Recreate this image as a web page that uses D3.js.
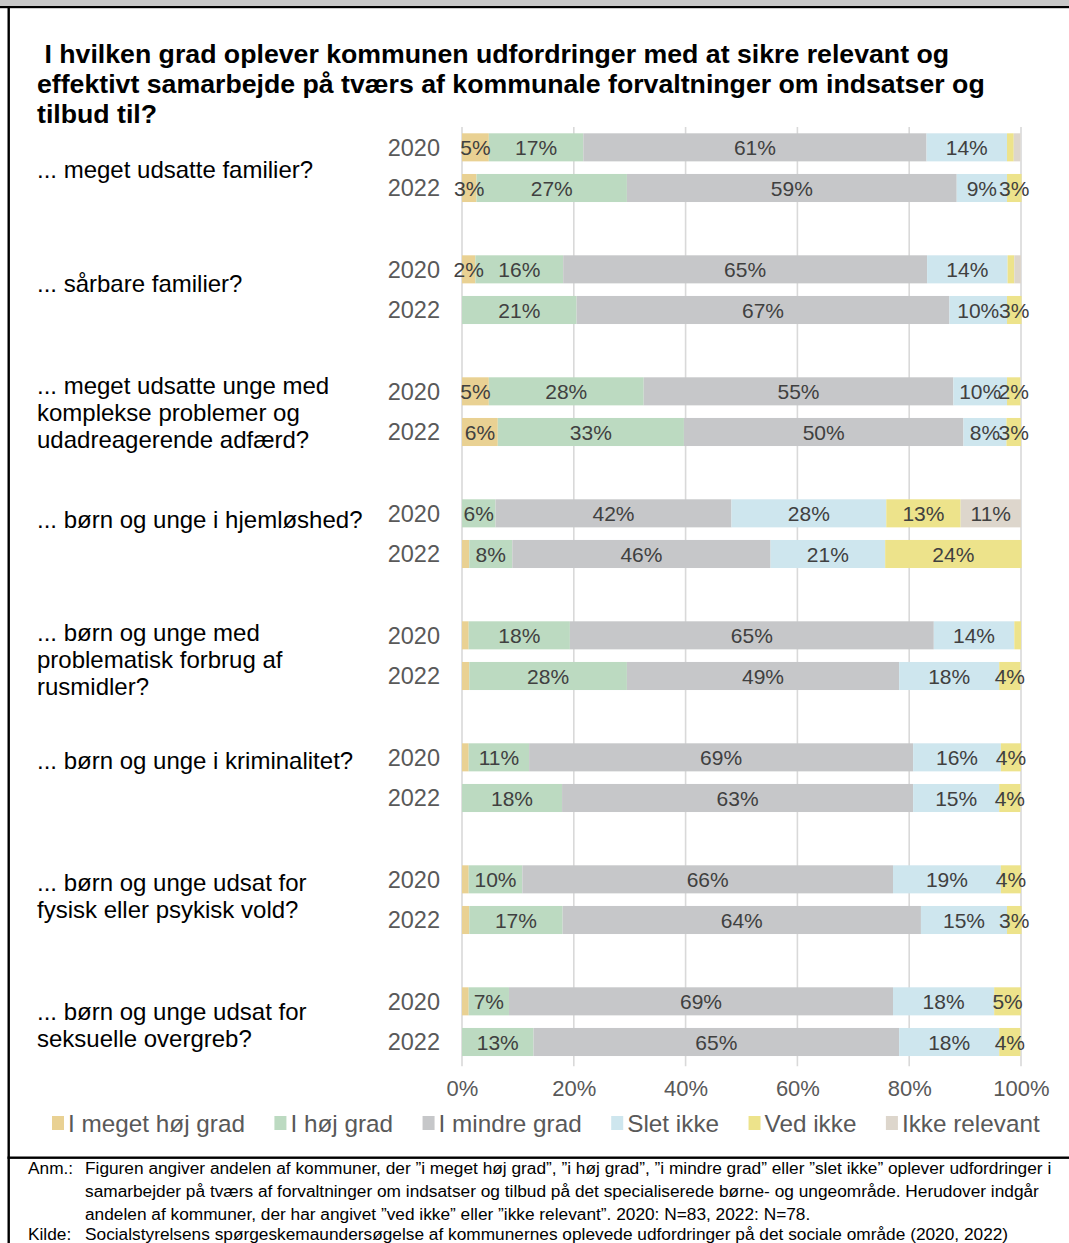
<!DOCTYPE html>
<html>
<head>
<meta charset="utf-8">
<script src="https://cdn.jsdelivr.net/npm/d3@7"></script>
<style>
  body { margin: 0; background: #fff; }
  svg { display: block; }
  text { font-family: "Liberation Sans", Arial, sans-serif; }
</style>
</head>
<body>
<div id="chart"></div>
<script>
// categories (each one may wrap onto several lines)
const categories = [
  ["... meget udsatte familier?"],
  ["... sårbare familier?"],
  ["... meget udsatte unge med", "komplekse problemer og", "udadreagerende adfærd?"],
  ["... børn og unge i hjemløshed?"],
  ["... børn og unge med", "problematisk forbrug af", "rusmidler?"],
  ["... børn og unge i kriminalitet?"],
  ["... børn og unge udsat for", "fysisk eller psykisk vold?"],
  ["... børn og unge udsat for", "seksuelle overgreb?"]
];
const years = ["2020", "2022"];
const seriesNames = ["I meget høj grad", "I høj grad", "I mindre grad", "Slet ikke", "Ved ikke", "Ikke relevant"];

// values in %, order: cat1-2020, cat1-2022, cat2-2020, ...
const megetHoej = [4.8, 2.6, 2.4, 0, 4.8, 6.4, 0, 1.3, 1.2, 1.3, 1.2, 0, 1.2, 1.3, 1.2, 0];
const hoej = [16.9, 26.9, 15.7, 20.5, 27.7, 33.3, 6.0, 7.7, 18.1, 28.2, 10.8, 17.9, 9.6, 16.7, 7.2, 12.8];
const mindre = [61.4, 59.0, 65.1, 66.7, 55.4, 50.0, 42.2, 46.2, 65.1, 48.7, 68.7, 62.8, 66.3, 64.1, 68.7, 65.4];
const sletIkke = [14.4, 9.0, 14.4, 10.3, 9.6, 7.7, 27.7, 20.5, 14.4, 17.9, 15.7, 15.4, 19.3, 15.4, 18.1, 17.9];
const vedIkke = [1.2, 2.6, 1.2, 2.6, 2.4, 2.6, 13.3, 24.4, 1.2, 3.8, 3.6, 3.8, 3.6, 2.6, 4.8, 3.8];
const ikkeRelevant = [1.2, 0, 1.2, 0, 0, 0, 10.8, 0, 0, 0, 0, 0, 0, 0, 0, 0];

const xTicks = [0, 20, 40, 60, 80, 100];

const titleLines = [
  " I hvilken grad oplever kommunen udfordringer med at sikre relevant og",
  "effektivt samarbejde på tværs af kommunale forvaltninger om indsatser og",
  "tilbud til?"
];
const anmLines = [
  "Figuren angiver andelen af kommuner, der ”i meget høj grad”, ”i høj grad”, ”i mindre grad” eller ”slet ikke” oplever udfordringer i",
  "samarbejder på tværs af forvaltninger om indsatser og tilbud på det specialiserede børne- og ungeområde. Herudover indgår",
  "andelen af kommuner, der har angivet ”ved ikke” eller ”ikke relevant”. 2020: N=83, 2022: N=78."
];
const kildeLine = "Socialstyrelsens spørgeskemaundersøgelse af kommunernes oplevede udfordringer på det sociale område (2020, 2022)";

const colors = ["#E9D193", "#BCDAC1", "#C6C7C9", "#CEE6EE", "#EDE38B", "#DDD6CC"];
// small vertical nudges of the category text boxes
const labelShift = [2, -6, 1, -14, 4, -17, -4, 3];

const W = 1069, H = 1243;
const svg = d3.select("#chart").append("svg").attr("width", W).attr("height", H);

// frame
svg.append("rect").attr("x", 0).attr("y", 0).attr("width", W).attr("height", 7).attr("fill", "#C8C8C8");
svg.append("rect").attr("x", 0).attr("y", 6).attr("width", W).attr("height", 2.2).attr("fill", "#000");
svg.append("rect").attr("x", 7.5).attr("y", 6).attr("width", 2.4).attr("height", H).attr("fill", "#000");
svg.append("rect").attr("x", 7.5).attr("y", 1156.5).attr("width", W).attr("height", 2.4).attr("fill", "#000");

// title
svg.append("g").selectAll("text").data(titleLines).join("text")
  .attr("x", 37).attr("y", (d, i) => 63 + i * 30)
  .attr("font-size", 26.7).attr("font-weight", "bold").attr("fill", "#000")
  .style("white-space", "pre")
  .text(d => d);

// rows
const rows = [];
categories.forEach((c, ci) => years.forEach((yr, yi) => rows.push({ ci, yr, idx: ci * 2 + yi })));
const series = [megetHoej, hoej, mindre, sletIkke, vedIkke, ikkeRelevant];

const x = d3.scaleLinear().domain([0, 100]).range([462, 1021]);
const y0 = d3.scaleBand().domain(d3.range(categories.length)).range([127, 127 + categories.length * 122]);
const y1 = d3.scaleBand().domain(years).range([0, 81.33]).paddingInner(0.31).paddingOuter(0.155);
const rowY = r => y0(r.ci) + y1(r.yr);
const plotBottom = y0(categories.length - 1) + 81.33 + 4;

// gridlines
svg.append("g").selectAll("line").data(xTicks).join("line")
  .attr("x1", d => x(d)).attr("x2", d => x(d))
  .attr("y1", 127).attr("y2", plotBottom)
  .attr("stroke", "#D9D9D9").attr("stroke-width", 1.6);

// stacked bars
const stacked = rows.map(r => {
  let acc = 0;
  return series.map((s, si) => {
    const v = s[r.idx];
    const seg = { r, si, v, x0: acc, x1: acc + v };
    acc += v;
    return seg;
  });
}).flat();

svg.append("g").selectAll("rect").data(stacked.filter(d => d.v > 0)).join("rect")
  .attr("x", d => x(d.x0)).attr("width", d => x(d.x1) - x(d.x0))
  .attr("y", d => rowY(d.r)).attr("height", y1.bandwidth())
  .attr("fill", d => colors[d.si]);

svg.append("g").selectAll("text").data(stacked.filter(d => Math.round(d.v) >= 2)).join("text")
  .attr("x", d => x((d.x0 + d.x1) / 2))
  .attr("y", d => rowY(d.r) + y1.bandwidth() / 2)
  .attr("dy", "0.36em").attr("text-anchor", "middle")
  .attr("font-size", 21).attr("fill", "#404040")
  .text(d => Math.round(d.v) + "%");

// year labels
svg.append("g").selectAll("text").data(rows).join("text")
  .attr("x", 440).attr("y", d => rowY(d) + y1.bandwidth() / 2)
  .attr("dy", "0.36em").attr("text-anchor", "end")
  .attr("font-size", 23.5).attr("fill", "#595959")
  .text(d => d.yr);

// category labels
const catG = svg.append("g").selectAll("text").data(categories).join("text")
  .attr("font-size", 24).attr("fill", "#000")
  .attr("transform", (d, i) => {
    const mid = y0(i) + 81.33 / 2 + labelShift[i];
    return `translate(37,${mid - (d.length - 1) * 27 / 2})`;
  });
catG.selectAll("tspan").data(d => d).join("tspan")
  .attr("x", 0).attr("y", (d, i) => i * 27).attr("dy", "0.35em")
  .text(d => d);

// x axis
const xAxis = d3.axisBottom(x).tickValues(xTicks).tickFormat(d => d + "%").tickSize(0).tickPadding(0);
const axG = svg.append("g").attr("transform", `translate(0,1080)`).call(xAxis);
axG.select(".domain").remove();
axG.selectAll("text").attr("font-size", 22).attr("fill", "#595959")
  .attr("font-family", "Liberation Sans, Arial, sans-serif");

// legend
const legend = svg.append("g").attr("transform", "translate(52,1123)");
let lx = 0;
seriesNames.forEach((n, i) => {
  const g = legend.append("g").attr("transform", `translate(${lx},0)`);
  g.append("rect").attr("x", 0).attr("y", -7).attr("width", 12).attr("height", 14).attr("fill", colors[i]);
  const t = g.append("text").attr("x", 16).attr("dy", "0.36em")
    .attr("font-size", 24.3).attr("fill", "#595959").text(n);
  lx += 16 + t.node().getComputedTextLength() + 29.5;
});

// notes
const notes = svg.append("g").attr("font-size", 17.3).attr("fill", "#000");
notes.append("text").attr("x", 28).attr("y", 1174).text("Anm.:");
notes.selectAll("text.anm").data(anmLines).join("text").attr("class", "anm")
  .attr("x", 85).attr("y", (d, i) => 1174 + i * 23).text(d => d);
notes.append("text").attr("x", 28).attr("y", 1240).text("Kilde:");
notes.append("text").attr("x", 85).attr("y", 1240).text(kildeLine);
</script>
</body>
</html>
